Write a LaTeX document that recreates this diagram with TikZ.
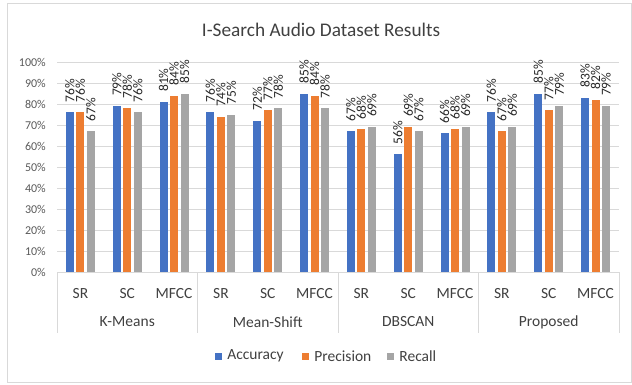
\documentclass[tikz,border=0pt]{standalone}
\usepackage{fontspec}
\setmainfont{Carlito}
\usetikzlibrary{positioning}
\definecolor{accblue}{HTML}{4472C4}
\definecolor{preorange}{HTML}{ED7D31}
\definecolor{recgray}{HTML}{A5A5A5}
\definecolor{gridc}{HTML}{D9D9D9}
\definecolor{txtc}{HTML}{595959}
\definecolor{darktxt}{HTML}{404040}

\begin{document}
\begin{tikzpicture}[
  x=1pt, y=-1pt,
  grid/.style={draw=gridc, line width=0.9pt},
  ttl/.style={font=\fontsize{19.3}{22}\selectfont, darktxt},
  ylab/.style={anchor=east, inner sep=0pt, font=\fontsize{12}{14}\selectfont, txtc},
  cat/.style={inner sep=0pt, font=\fontsize{15.5}{18}\selectfont, darktxt},
  lbl/.style={rotate=90, anchor=west, inner sep=0pt, font=\fontsize{13.5}{15}\selectfont, black!85},
  key/.style={minimum size=7pt, inner sep=0pt},
  keytxt/.style={anchor=west, inner sep=0pt, font=\fontsize{15.5}{18}\selectfont, darktxt}
]
\useasboundingbox (0,0) rectangle (632,384);
\draw[gridc, line width=0.8pt] (7,3) rectangle (631,382);

% ================= title =================
\node[ttl] (title) at (321,30) {I-Search Audio Dataset Results};

% ================= grid and value axis =================
\foreach \k in {0,...,10} {
  \draw[grid] (57,272-21*\k) -- (619,272-21*\k);
  \pgfmathtruncatemacro{\pc}{10*\k}
  \node[ylab] (y\k) at (46,272-21*\k) {\pc\%};
}

% ================= bars and data labels =================
\foreach \a/\p/\r [count=\i from 0] in
  {76/76/67, 79/78/76, 81/84/85, 76/74/75, 72/77/78, 85/84/78,
   67/68/69, 56/69/67, 66/68/69, 76/67/69, 85/77/79, 83/82/79} {
  \pgfmathsetmacro{\cx}{57+(\i+0.5)*46.83}
  \fill[accblue]    (\cx-14.5,272) rectangle (\cx-6.5,272-2.1*\a);
  \fill[preorange]  (\cx-4,272)    rectangle (\cx+4,272-2.1*\p);
  \fill[recgray]    (\cx+6.5,272)  rectangle (\cx+14.5,272-2.1*\r);
  \node[lbl] (la\i) at (\cx-10.5,272-2.1*\a-10) {\a\%};
  \node[lbl] (lp\i) at (\cx,272-2.1*\p-10)      {\p\%};
  \node[lbl] (lr\i) at (\cx+10.5,272-2.1*\r-10) {\r\%};
}

% ================= category axis =================
\foreach \s [count=\i from 0] in {SR,SC,MFCC,SR,SC,MFCC,SR,SC,MFCC,SR,SC,MFCC} {
  \pgfmathsetmacro{\cx}{57+(\i+0.5)*46.83}
  \node[cat] (c\i) at (\cx,294) {\s};
}
\foreach \g [count=\j from 0] in {K-Means,Mean-Shift,DBSCAN,Proposed} {
  \pgfmathsetmacro{\gx}{57+(\j+0.5)*140.5}
  \node[cat] (g\j) at (\gx,322) {\g};
}
\foreach \j in {0,...,4} {
  \draw[grid] (57+\j*140.5,272) -- (57+\j*140.5,333);
}

% ================= legend =================
\node[key, fill=accblue]   (kA) at (218.5,356) {};
\node[keytxt, right=5pt of kA] (tA) {Accuracy};
\node[key, fill=preorange] (kP) at (305.5,356) {};
\node[keytxt, right=5pt of kP] (tP) {Precision};
\node[key, fill=recgray]   (kR) at (390.5,356) {};
\node[keytxt, right=5pt of kR] (tR) {Recall};

\end{tikzpicture}
\end{document}
